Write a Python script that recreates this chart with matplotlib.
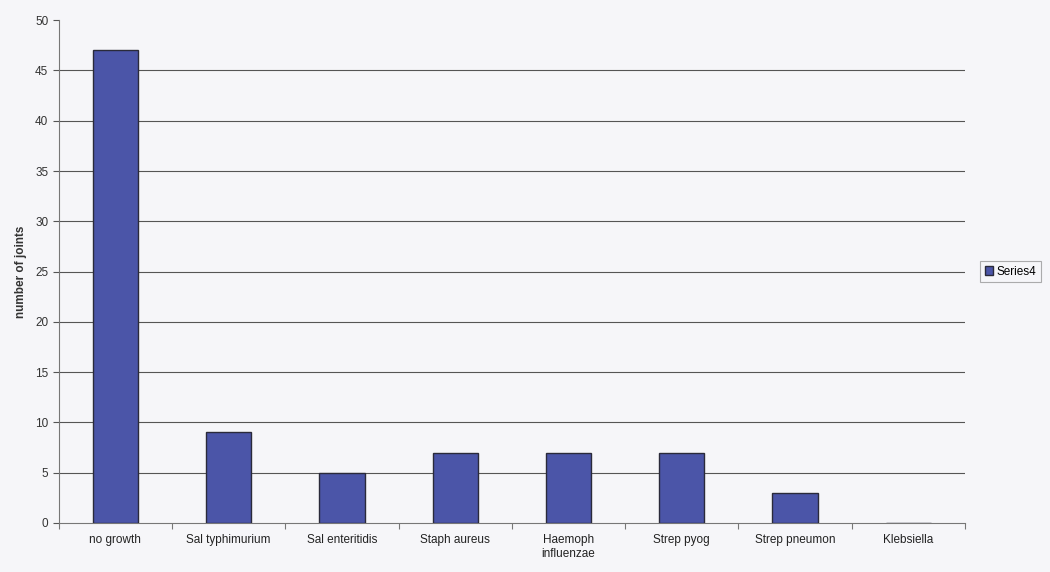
import matplotlib
matplotlib.use("Agg")
import matplotlib.pyplot as plt
import numpy as np

plt.rcParams["font.family"] = ["Liberation Sans", "DejaVu Sans"]

categories = ["no growth", "Sal typhimurium", "Sal enteritidis", "Staph aureus",
              "Haemoph\ninfluenzae", "Strep pyog", "Strep pneumon", "Klebsiella"]
values = [47, 9, 5, 7, 7, 7, 3, 0]
series_name = "Series4"
ylabel = "number of joints"
yticks = [0, 5, 10, 15, 20, 25, 30, 35, 40, 45, 50]

bg = "#f6f6f9"
fig = plt.figure(figsize=(10.5, 5.72), dpi=100, facecolor=bg)
ax = fig.add_axes([0.056, 0.0857, 0.863, 0.879], facecolor=bg)

x = np.arange(len(categories))
ax.bar(x, values, width=0.4, color="#4b55a8", edgecolor="#2a2a3a",
       linewidth=1.0, label=series_name, zorder=3)

ax.set_xlim(-0.5, len(categories) - 0.5)
ax.set_ylim(0, 50)
ax.set_yticks(yticks)
ax.tick_params(axis="y", labelsize=8.5, colors="#555555", labelcolor="#333333",
               length=4, direction="out")
for t in yticks[1:-1]:
    ax.axhline(t, color="#555555", linewidth=0.8, zorder=1)

ax.set_xticks(np.arange(len(categories) + 1) - 0.5)
ax.set_xticklabels([])
ax.set_xticks(x, minor=True)
ax.set_xticklabels(categories, minor=True, fontsize=8.5, color="#222222")
ax.tick_params(axis="x", which="major", length=4, colors="#777777", direction="out")
ax.tick_params(axis="x", which="minor", length=0, pad=8)

for s in ["top", "right"]:
    ax.spines[s].set_visible(False)
ax.spines["left"].set_color("#777777")
ax.spines["bottom"].set_color("#777777")

ax.set_ylabel(ylabel, fontsize=8.5, fontweight="bold", color="#333333", labelpad=6)

leg = ax.legend(loc="center left", bbox_to_anchor=(1.01, 0.5), fontsize=8.5,
                frameon=True, fancybox=False, edgecolor="#999999",
                handlelength=0.7, handleheight=0.7, handletextpad=0.3,
                borderpad=0.4, facecolor=bg)
leg.get_frame().set_linewidth(0.8)

fig.savefig("out.png", dpi=100, facecolor=bg)
